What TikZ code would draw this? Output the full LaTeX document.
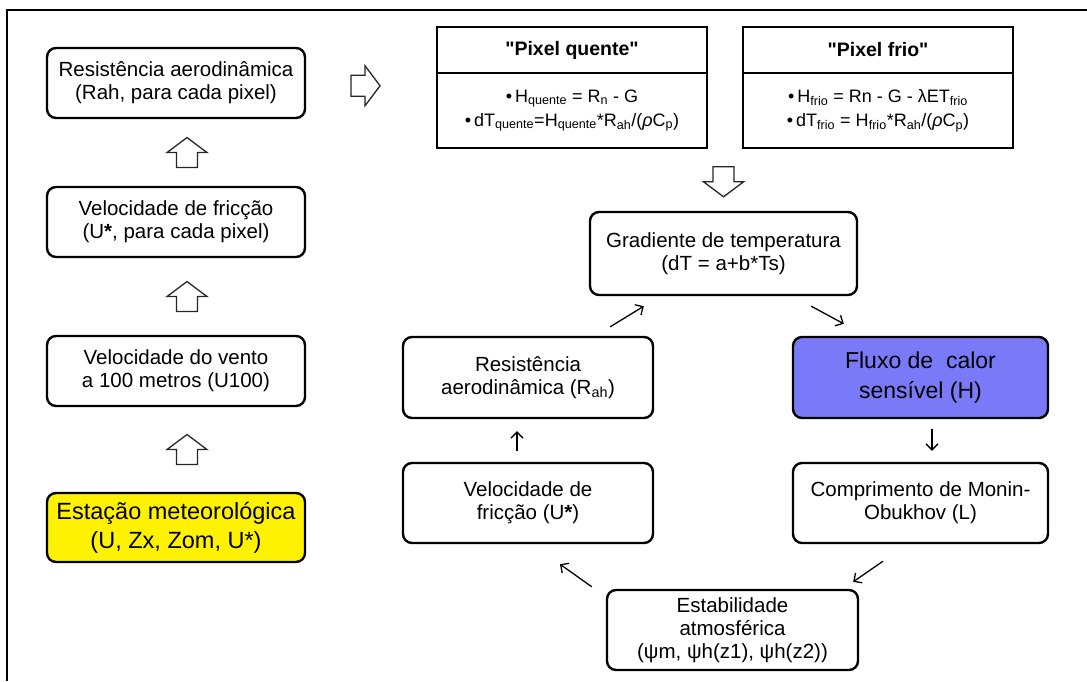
\documentclass[tikz,border=0pt]{standalone}
\usepackage{fontspec}
\setmainfont{Liberation Sans}
\newfontfamily\plainfont{Liberation Sans}
\usetikzlibrary{calc,arrows.meta}
\definecolor{fluxblue}{RGB}{122,122,248}
\begin{document}
\begin{tikzpicture}[x=1pt,y=-1pt]
\tikzset{
 box/.style={draw, line width=2.4pt, rounded corners=9pt, align=center, inner sep=0pt, font=\fontsize{20.5}{23}\selectfont},
 tabbox/.style={draw, line width=2.4pt, align=center, inner sep=0pt, minimum width=270pt},
 thead/.style={tabbox, minimum height=46pt, font=\plainfont\bfseries\fontsize{19.5}{22}\selectfont},
 tbody/.style={tabbox, minimum height=75pt, font=\fontsize{18}{24}\selectfont},
 conn/.style={line width=1.3pt, -{Straight Barb[length=6pt,width=12pt]}},
 hollow/.style={draw=black!85, line width=1.3pt, fill=white},
 upar/.pic={\path[hollow] (0,-15) -- (20,0) -- (10.5,0) -- (10.5,15) -- (-10.5,15) -- (-10.5,0) -- (-20,0) -- cycle;},
 dnar/.pic={\path[hollow] (0,15) -- (20,0) -- (10.5,0) -- (10.5,-15) -- (-10.5,-15) -- (-10.5,0) -- (-20,0) -- cycle;},
 rtar/.pic={\path[hollow] (15,0) -- (0,-20) -- (0,-10.5) -- (-14,-10.5) -- (-14,10.5) -- (0,10.5) -- (0,20) -- cycle;}
}
\useasboundingbox (0,0) rectangle (1087,681);
\draw[line width=2pt] (7,681) -- (7,10) -- (1087,10);

% left column
\node[box, minimum width=258pt, minimum height=70pt] (L1) at (176,83) {Resistência aerodinâmica\\(Rah, para cada pixel)};
\node[box, minimum width=258pt, minimum height=70pt] (L2) at (176,222) {Velocidade de fricção\\(U\textbf{*}, para cada pixel)};
\node[box, minimum width=258pt, minimum height=70pt] (L3) at (176,371) {Velocidade do vento\\a 100 metros (U100)};
\node[box, fill=yellow, minimum width=258pt, minimum height=69pt, font=\fontsize{23.5}{29}\selectfont] (L4) at (176,527.5) {Estação meteorológica\\(U, Zx, Zom, U*)};

\pic at ($(L1.south)!0.5!(L2.north)+(11,0)$) {upar};
\pic at ($(L2.south)!0.5!(L3.north)+(11,0)$) {upar};
\pic at ($(L3.south)!0.5!(L4.north)+(11,0)$) {upar};

% tables
\node[thead] (qh) at (572,50) {"Pixel quente"};
\node[tbody] (qb) at (572,110.5) {•\,H\textsubscript{quente} = R\textsubscript{n} - G\\•\,dT\textsubscript{quente}=H\textsubscript{quente}*R\textsubscript{ah}/(\textit{ρ}C\textsubscript{p})};
\node[thead] (fh) at (878,50) {"Pixel frio"};
\node[tbody] (fb) at (878,110.5) {•\,H\textsubscript{frio} = Rn - G - λET\textsubscript{frio}\\•\,dT\textsubscript{frio} = H\textsubscript{frio}*R\textsubscript{ah}/(\textit{ρ}C\textsubscript{p})};

\pic at ($(L1.east)!0.5!(qb.west)+(-6,-11)$) {rtar};

% cycle
\node[box, minimum width=267pt, minimum height=83pt] (grad) at (723.5,253.5) {Gradiente de temperatura\\(dT = a+b*Ts)};
\pic at ($(grad.north)+(0,-29)$) {dnar};
\node[box, minimum width=250pt, minimum height=81pt] (rah) at (528,377.5) {Resistência\\aerodinâmica (R\textsubscript{ah})};
\node[box, fill=fluxblue, minimum width=255pt, minimum height=81pt, font=\fontsize{23}{30}\selectfont] (flux) at (920.5,377.5) {Fluxo de \ calor\\sensível (H)};
\node[box, minimum width=255pt, minimum height=80pt] (monin) at (920.5,503) {Comprimento de Monin-\\Obukhov (L)};
\node[box, minimum width=250pt, minimum height=80pt] (vel) at (528,503) {Velocidade de\\fricção (U\textbf{*})};
\node[box, minimum width=251pt, minimum height=80pt] (estab) at (732.5,630) {Estabilidade\\atmosférica\\(ψm, ψh(z1), ψh(z2))};

\draw[conn] ($(rah.north east)+(-44,-9)$) -- ($(grad.south west)+(55,10)$);
\draw[conn] ($(grad.south east)+(-47,10)$) -- ($(flux.north west)+(52,-12)$);
\draw[conn] ($(flux.south)+(11.5,10)$) -- ($(monin.north)+(11.5,-11)$);
\draw[conn] ($(monin.south)+(-37.5,17)$) -- ($(estab.north east)+(-6,-7)$);
\draw[conn] ($(estab.north west)+(-14,-2)$) -- ($(vel.south)+(32,20)$);
\draw[conn] ($(vel.north)+(-11,-11)$) -- ($(rah.south)+(-11,12)$);
\end{tikzpicture}
\end{document}
